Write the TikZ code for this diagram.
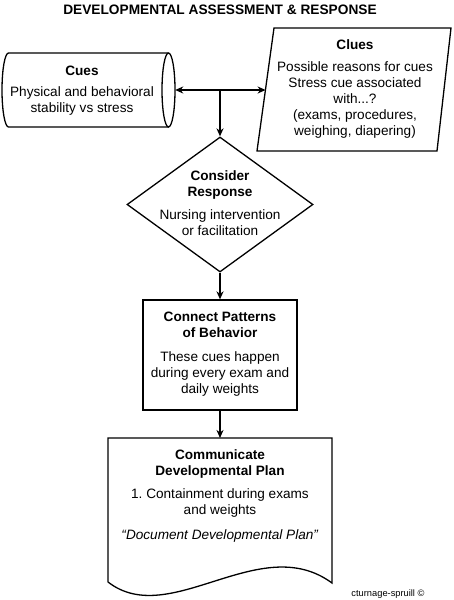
\documentclass[tikz,border=0pt]{standalone}
\usepackage{fontspec}
\setmainfont{Liberation Sans}
\usetikzlibrary{arrows.meta,shapes.geometric}
\frenchspacing
\begin{document}
\begin{tikzpicture}[x=1pt,y=-1pt,
  outl/.style={line width=1.3pt, line join=miter},
  txt/.style={align=center, font=\fontsize{13.6}{16}\selectfont, inner sep=0pt},
  conn/.style={line width=1.3pt, -{Stealth[length=8pt,width=7pt,inset=2.5pt]}},
  dconn/.style={line width=1.3pt, {Stealth[length=8pt,width=7pt,inset=2.5pt]}-{Stealth[length=8pt,width=7pt,inset=2.5pt]}},
]
\useasboundingbox (0,0) rectangle (454,600);
% title
\node[font=\bfseries\fontsize{13.7}{16}\selectfont, inner sep=0pt] (title) at (220,10) {DEVELOPMENTAL ASSESSMENT \& RESPONSE};
% cylinder (Cues)
\node[minimum width=173pt, minimum height=74pt, inner sep=0pt] (cues) at (88.5,90) {};
\draw[outl] (168.5,53) -- (8.5,53) arc[start angle=90, end angle=270, x radius=6.5pt, y radius=37pt] -- (168.5,127);
\draw[outl] (168.5,90) ellipse[x radius=6.5pt, y radius=37pt];
\node[txt] (cuesT) at (82,90.5) {\textbf{Cues}\\[5pt]Physical and behavioral\\stability vs stress};
% parallelogram (Clues)
\node[minimum width=180pt, minimum height=123pt, inner sep=0pt] (clues) at (355,89.5) {};
\draw[outl] (274,28) -- (451,28) -- (437,151) -- (257,151) -- cycle;
\coordinate (cluesL) at (265.6,90);
\node[txt] (cluesT) at (355,88.5) {\textbf{Clues}\\[6pt]Possible reasons for cues\\Stress cue associated\\with...?\\(exams, procedures,\\weighing, diapering)};
% diamond
\node[diamond, draw, outl, minimum width=186pt, minimum height=135pt, inner sep=0pt] (resp) at (220,204.5) {};
\node[txt] (respT) at (220,203.5) {\textbf{Consider}\\\textbf{Response}\\[7pt]Nursing intervention\\or facilitation};
% rectangle
\node[draw, outl, minimum width=154pt, minimum height=110pt, inner sep=0pt] (pat) at (220,355) {};
\node[txt] (patT) at (220,354) {\textbf{Connect Patterns}\\\textbf{of Behavior}\\[8pt]These cues happen\\during every exam and\\daily weights};
% document
\node[minimum width=224pt, minimum height=145pt, inner sep=0pt, anchor=north] (doc) at (220,438) {};
\draw[outl] (108,582) -- (108,438) -- (332,438) -- (332,583)
  .. controls (260,530) and (170,630) .. (108,582);
\node[txt] (docH) at (220,463.5) {\textbf{Communicate}\\\textbf{Developmental Plan}};
\node[txt, anchor=base] (docB1) at (220,498.5) {1.~Containment during exams};
\node[txt, anchor=base] (docB2) at (220,514.5) {and weights};
\node[txt] (docQ) at (220,535.5) {\textit{“Document Developmental Plan”}};
% copyright
\node[font=\fontsize{9.3}{11}\selectfont, inner sep=0pt] (copy) at (388,594) {cturnage-spruill ©};
% connectors
\coordinate (jn) at (220,90);
\draw[dconn] (cues.east) -- (cluesL);
\draw[conn] (jn) -- (resp.north);
\draw[conn] (resp.south) -- (pat.north);
\draw[conn] (pat.south) -- (doc.north);
\end{tikzpicture}
\end{document}
